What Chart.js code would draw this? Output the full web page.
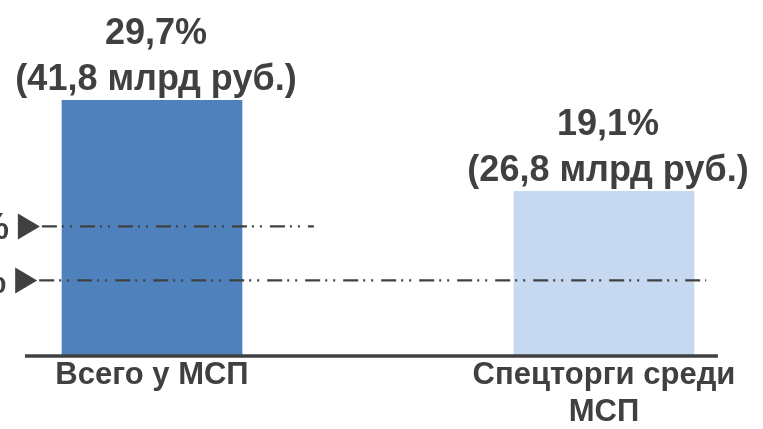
<!DOCTYPE html>
<html>
<head>
<meta charset="utf-8">
<script src="https://cdn.jsdelivr.net/npm/chart.js@4/dist/chart.umd.min.js"></script>
<style>
  html, body { margin: 0; padding: 0; background: #fff; }
  #frame { position: relative; width: 763px; height: 429px; overflow: hidden; background: #fff; }
  #chart { position: absolute; left: -140px; top: 0; }
</style>
</head>
<body>
<div id="frame"><canvas id="chart" width="1000" height="429"></canvas></div>
<script>
// Категории (подписи оси X)
const categories = [['Всего у МСП'], ['Спецторги среди', 'МСП']];
// Доля, %
const shares = [29.7, 19.1];
// Объём, млрд руб.
const amounts = [41.8, 26.8];
// Опорные уровни, % и их подписи
const refLevels = [15, 8.7];
const refLabels = ['15%', '8,7%'];

const barColors = ['#4F81BD', '#C6D9F1'];
const ink = '#404040';
const fontFamily = '"Liberation Sans", Arial, sans-serif';

const fmt = v => v.toFixed(1).replace('.', ',');

// Базовая линия под столбцами
const baselinePlugin = {
  id: 'baseline',
  afterDatasetsDraw(chart, args, opts) {
    const { ctx, scales: { x, y } } = chart;
    const py = y.getPixelForValue(0) + 1;
    ctx.save();
    ctx.strokeStyle = ink;
    ctx.lineWidth = 3.5;
    ctx.beginPath();
    ctx.moveTo(x.getPixelForValue(opts.from), py);
    ctx.lineTo(x.getPixelForValue(opts.to), py);
    ctx.stroke();
    ctx.restore();
  }
};

// Штрихпунктирные опорные уровни со стрелками
const refLinesPlugin = {
  id: 'refLines',
  afterDatasetsDraw(chart, args, opts) {
    const { ctx, scales: { x, y } } = chart;
    refLevels.forEach((lvl, i) => {
      const py = y.getPixelForValue(lvl);
      const tip = x.getPixelForValue(opts.tipAt[i]);
      const end = x.getPixelForValue(opts.endAt[i]);
      ctx.save();
      ctx.strokeStyle = ink;
      ctx.lineWidth = 2.2;
      ctx.setLineDash([15, 5, 2, 6, 2, 8]);
      ctx.beginPath();
      ctx.moveTo(tip + 2, py);
      ctx.lineTo(end, py);
      ctx.stroke();
      ctx.setLineDash([]);
      ctx.fillStyle = ink;
      ctx.beginPath();
      ctx.moveTo(tip, py);
      ctx.lineTo(tip - 22, py - 13);
      ctx.lineTo(tip - 22, py + 13);
      ctx.closePath();
      ctx.fill();
      ctx.font = 'bold 36px ' + fontFamily;
      ctx.textAlign = 'right';
      ctx.textBaseline = 'alphabetic';
      ctx.fillText(refLabels[i], tip - 31, py + 13);
      ctx.restore();
    });
  }
};

// Подписи значений над столбцами
const valueLabelsPlugin = {
  id: 'valueLabels',
  afterDatasetsDraw(chart, args, opts) {
    const { ctx } = chart;
    const meta = chart.getDatasetMeta(0);
    ctx.save();
    ctx.fillStyle = ink;
    ctx.font = 'bold 36px ' + fontFamily;
    ctx.textAlign = 'center';
    ctx.textBaseline = 'alphabetic';
    meta.data.forEach((bar, i) => {
      ctx.fillText(fmt(shares[i]) + '%', bar.x + opts.shift, bar.y - opts.gap - opts.lineGap);
      ctx.fillText('(' + fmt(amounts[i]) + ' млрд руб.)', bar.x + opts.shift, bar.y - opts.gap);
    });
    ctx.restore();
  }
};

new Chart(document.getElementById('chart'), {
  type: 'bar',
  data: {
    labels: categories,
    datasets: [{
      data: shares,
      backgroundColor: barColors,
      borderWidth: 0,
      barThickness: 180
    }]
  },
  options: {
    responsive: false,
    devicePixelRatio: 1,
    animation: false,
    layout: { padding: { top: 12, left: 66, right: 30, bottom: 0 } },
    plugins: {
      legend: { display: false },
      tooltip: { enabled: false },
      baseline: { from: -0.281, to: 1.252 },
      refLines: { tipAt: [-0.248, -0.254], endAt: [0.358, 1.226] },
      valueLabels: { gap: 10, lineGap: 46, shift: 4 }
    },
    scales: {
      x: {
        grid: { display: false, drawTicks: false },
        border: { display: false },
        afterFit: s => { s.height = 74; },
        ticks: {
          color: ink,
          padding: 2,
          maxRotation: 0,
          autoSkip: false,
          font: { family: fontFamily, size: 31, weight: 'bold', lineHeight: 1.2 }
        }
      },
      y: {
        display: false,
        min: 0,
        max: 40
      }
    }
  },
  plugins: [baselinePlugin, refLinesPlugin, valueLabelsPlugin]
});
</script>
</body>
</html>
